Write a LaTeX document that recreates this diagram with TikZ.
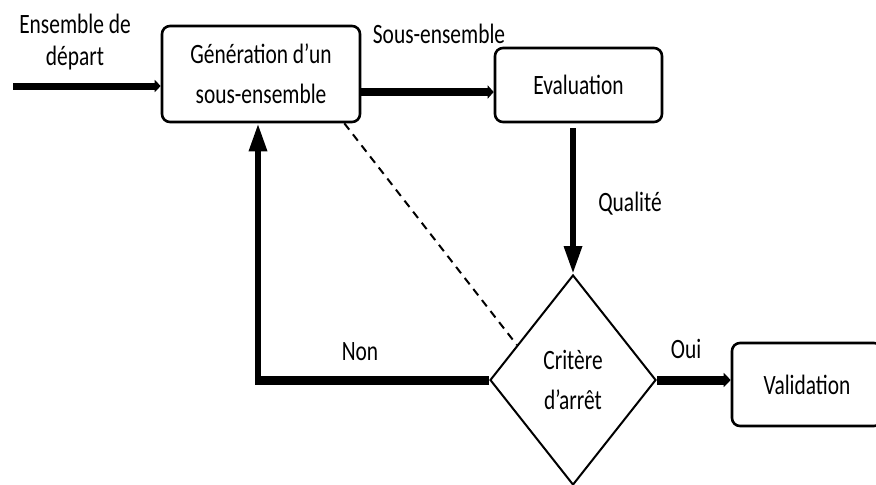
\documentclass[tikz,border=0pt]{standalone}
\usepackage{fontspec}
\setmainfont[FakeStretch=0.765]{Carlito}
\usetikzlibrary{positioning,shapes.geometric,arrows.meta}

\tikzset{
  boite/.style={draw, rounded corners=4pt, line width=1.3pt, inner sep=0pt,
    align=center, font=\fontsize{14}{20}\selectfont},
  losange/.style={draw, diamond, line width=1pt, inner sep=0pt,
    align=center, font=\fontsize{14}{20}\selectfont},
  etiq/.style={inner sep=0pt, align=center, font=\fontsize{14}{16}\selectfont},
  fleche/.style={line width=3.5pt, -{Triangle[length=3pt,width=6pt]}},
  grossefleche/.style={line width=4.5pt, -{Triangle[length=3.5pt,width=7pt]}},
  verticale/.style={line width=3pt, -{Triangle[length=14pt,width=8.5pt]}},
  pointille/.style={line width=1pt, dash pattern=on 4pt off 3pt}
}

\begin{document}
\begin{tikzpicture}[x=0.5pt,y=-0.5pt]
\path[fill=white] (0,0) rectangle (876,484);
\clip (0,0) rectangle (876,484);
% boites
\node[boite, minimum width=99pt, minimum height=48pt] (gen) at (261,74) {Génération d’un\\sous-ensemble};
\node[boite, minimum width=83.5pt, minimum height=37pt] (eval) at (578.5,85) {Evaluation};
\node[losange, minimum width=83pt, minimum height=105pt] (crit) at (573,380) {Critère\\d’arrêt};
\node[boite, minimum width=75pt, minimum height=41.5pt] (val) at (807,384.5) {Validation};
% etiquettes
\node[etiq] (ens) at (75,42) {Ensemble de\\départ};
\node[etiq, anchor=base] (sous) at (439,43) {Sous-ensemble};
\node[etiq, anchor=base] (qual) at (630,211) {Qualité};
\node[etiq, anchor=base] (non) at (360,360) {Non};
\node[etiq, anchor=base] (oui) at (686,358) {Oui};
% fleches
\coordinate (depart) at (13,86);
\coordinate (coin) at (258,380);
\draw[fleche] (depart) -- (depart -| gen.west);
\draw[line width=4pt, -{Triangle[length=3pt,width=6.5pt]}] (gen.east |- 0,92) -- (eval.west |- 0,92);
\draw[verticale, shorten <=2.5pt] (crit.north |- eval.south) -- (crit.north);
\draw[line width=4.5pt] (crit.west) -- ([xshift=-1.5pt]coin);
\draw[verticale] ([yshift=-2.25pt]coin) -- (coin |- gen.south);
\draw[grossefleche] (crit.east) -- (val.west |- crit.east);
\draw[pointille] ([xshift=-8.5pt]gen.south east) -- (crit.148);
\end{tikzpicture}
\end{document}
